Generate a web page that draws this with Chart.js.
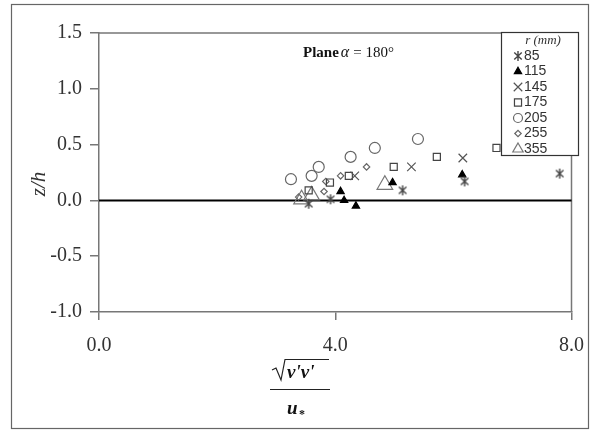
<!DOCTYPE html>
<html lang="en">
<head>
<meta charset="UTF-8">
<title>Plane α = 180°</title>
<script src="https://cdn.jsdelivr.net/npm/chart.js"></script>
<style>
  html, body { margin: 0; padding: 0; background: #fff; }
  #wrap { width: 598px; height: 434px; }
</style>
</head>
<body>
<div id="wrap"><canvas id="grafico" width="598" height="434"></canvas></div>
<script>
  // r (mm) values and the measured points for each radius
  const radii = ['85', '115', '145', '175', '205', '255', '355'];
  const x85 = [3.55, 3.92, 5.14, 6.19, 7.80];
  const y85 = [-0.03, 0.01, 0.09, 0.17, 0.24];
  const x115 = [4.09, 4.15, 4.35, 4.97, 6.15];
  const y115 = [0.08, 0.00, -0.05, 0.16, 0.23];
  const x145 = [4.33, 5.29, 6.16];
  const y145 = [0.22, 0.30, 0.38];
  const x175 = [3.55, 3.91, 4.23, 4.99, 5.72, 6.73];
  const y175 = [0.09, 0.16, 0.22, 0.30, 0.39, 0.47];
  const x205 = [3.25, 3.60, 3.72, 4.26, 4.67, 5.40];
  const y205 = [0.19, 0.22, 0.30, 0.39, 0.47, 0.55];
  const x255 = [3.38, 3.81, 3.84, 4.09, 4.53];
  const y255 = [0.03, 0.08, 0.17, 0.22, 0.30];
  const x355 = [3.43, 3.60, 4.84];
  const y355 = [0.01, 0.045, 0.14];

  const xTicks = [0, 4, 8];
  const yTicks = [-1.0, -0.5, 0.0, 0.5, 1.0, 1.5];

  const gris = '#444';
  const serif = '"Liberation Serif", "Times New Roman", serif';

  // six-armed asterisk marker
  function asterisk(size) {
    const c = document.createElement('canvas');
    c.width = size; c.height = size;
    const g = c.getContext('2d');
    const m = size / 2, r = size / 2 - 1;
    g.strokeStyle = gris;
    g.lineWidth = 1.4;
    g.beginPath();
    g.moveTo(m, m - r); g.lineTo(m, m + r);
    g.moveTo(m - r * 0.75, m - r * 0.7); g.lineTo(m + r * 0.75, m + r * 0.7);
    g.moveTo(m + r * 0.75, m - r * 0.7); g.lineTo(m - r * 0.75, m + r * 0.7);
    g.stroke();
    return c;
  }

  const estilos = {
    '85':  { pointStyle: asterisk(12), radius: 5, fill: 'rgba(0,0,0,0)', border: gris },
    '115': { pointStyle: 'triangle', radius: 4.2, fill: '#000', border: '#000' },
    '145': { pointStyle: 'crossRot', radius: 6, fill: 'rgba(0,0,0,0)', border: '#555' },
    '175': { pointStyle: 'rect', radius: 5, fill: 'rgba(0,0,0,0)', border: '#444' },
    '205': { pointStyle: 'circle', radius: 5.5, fill: 'rgba(0,0,0,0)', border: '#666' },
    '255': { pointStyle: 'rectRot', radius: 3.2, fill: 'rgba(0,0,0,0)', border: '#666' },
    '355': { pointStyle: 'triangle', radius: 9, fill: 'rgba(0,0,0,0)', border: '#777' }
  };

  const xs = { '85': x85, '115': x115, '145': x145, '175': x175, '205': x205, '255': x255, '355': x355 };
  const ys = { '85': y85, '115': y115, '145': y145, '175': y175, '205': y205, '255': y255, '355': y355 };

  const datasets = radii.map(r => ({
    label: r,
    data: xs[r].map((x, i) => ({ x: x, y: ys[r][i] })),
    pointStyle: estilos[r].pointStyle,
    pointRadius: estilos[r].radius,
    pointHoverRadius: estilos[r].radius,
    pointBackgroundColor: estilos[r].fill,
    pointBorderColor: estilos[r].border,
    pointBorderWidth: 1.2,
    showLine: false
  }));

  const decoracion = {
    id: 'decoracion',
    beforeDatasetsDraw(chart) {
      const ctx = chart.ctx;
      const a = chart.chartArea;
      const y0 = chart.scales.y.getPixelForValue(0);
      ctx.save();
      // top and right edges of the plot box
      ctx.strokeStyle = '#777';
      ctx.lineWidth = 1.5;
      ctx.beginPath();
      ctx.moveTo(a.left, a.top); ctx.lineTo(a.right, a.top); ctx.lineTo(a.right, a.bottom);
      ctx.stroke();
      // z/h = 0 reference line
      ctx.strokeStyle = '#000';
      ctx.lineWidth = 2;
      ctx.beginPath();
      ctx.moveTo(a.left, y0); ctx.lineTo(a.right, y0);
      ctx.stroke();
      ctx.restore();
    },
    afterDraw(chart) {
      const ctx = chart.ctx;
      ctx.save();
      // outer frame
      ctx.strokeStyle = '#666';
      ctx.lineWidth = 1.2;
      ctx.strokeRect(11.5, 4.5, 577, 424);

      // plane label
      ctx.fillStyle = '#111';
      ctx.textBaseline = 'alphabetic';
      ctx.textAlign = 'left';
      let px = 303;
      ctx.font = 'bold 15px ' + serif;
      ctx.fillText('Plane', px, 57);
      px += ctx.measureText('Plane').width + 2;
      ctx.font = 'italic 16px ' + serif;
      ctx.fillText('α', px, 57);
      px += ctx.measureText('α').width + 4;
      ctx.font = '15px ' + serif;
      ctx.fillText('= 180°', px, 57);

      // y axis title
      ctx.save();
      ctx.translate(39, 184);
      ctx.rotate(-Math.PI / 2);
      ctx.font = 'italic 21px ' + serif;
      ctx.fillStyle = '#333';
      ctx.textAlign = 'center';
      ctx.textBaseline = 'middle';
      ctx.fillText('z/h', 0, 0);
      ctx.restore();

      // x axis title: sqrt(v'v') / u*
      ctx.fillStyle = '#111';
      ctx.strokeStyle = '#222';
      ctx.lineWidth = 1.2;
      ctx.beginPath();
      ctx.moveTo(272, 370); ctx.lineTo(276, 368); ctx.lineTo(281, 380);
      ctx.lineTo(285, 359.5); ctx.lineTo(329, 359.5);
      ctx.stroke();
      ctx.font = 'bold italic 19px ' + serif;
      ctx.textAlign = 'left';
      ctx.fillText("v'v'", 287, 378);
      ctx.beginPath();
      ctx.moveTo(270, 389.5); ctx.lineTo(330, 389.5);
      ctx.stroke();
      ctx.fillText('u', 287, 414);
      ctx.font = 'bold 12px ' + serif;
      ctx.fillText('*', 299, 418);

      // legend
      const lx = 501.5, ly = 32.5, lw = 77, lh = 123;
      ctx.fillStyle = '#fff';
      ctx.fillRect(lx, ly, lw, lh);
      ctx.strokeStyle = '#333';
      ctx.lineWidth = 1.2;
      ctx.strokeRect(lx, ly, lw, lh);
      ctx.fillStyle = '#333';
      ctx.font = 'italic 13px ' + serif;
      ctx.textAlign = 'center';
      ctx.textBaseline = 'middle';
      ctx.fillText('r (mm)', 543, 41);
      ctx.font = '14px "Liberation Sans", Arial, sans-serif';
      ctx.textAlign = 'left';
      radii.forEach((r, i) => {
        const yy = 56 + i * 15.5;
        const e = estilos[r];
        ctx.fillStyle = e.fill;
        ctx.strokeStyle = e.border;
        ctx.lineWidth = 1.2;
        const rad = r === '355' ? 6 : (r === '205' ? 4.5 : e.radius);
        Chart.helpers.drawPoint(ctx, { pointStyle: e.pointStyle, radius: rad, borderWidth: 1.2, rotation: 0 }, 518, yy);
        ctx.fillStyle = '#333';
        ctx.fillText(r, 524, yy);
      });
      ctx.restore();
    }
  };

  const ctx = document.getElementById('grafico').getContext('2d');
  new Chart(ctx, {
    type: 'scatter',
    data: { datasets: datasets },
    options: {
      responsive: false,
      animation: false,
      events: [],
      layout: { padding: { left: 0, top: 33, right: 26, bottom: 0 } },
      plugins: {
        legend: { display: false },
        tooltip: { enabled: false }
      },
      scales: {
        x: {
          type: 'linear',
          min: 0, max: 8,
          afterFit: s => { s.height = 122; },
          afterBuildTicks: s => { s.ticks = xTicks.map(v => ({ value: v })); },
          ticks: {
            padding: 14,
            color: '#333',
            font: { family: serif, size: 20 },
            maxRotation: 0,
            callback: v => v.toFixed(1)
          },
          grid: { drawOnChartArea: false, drawTicks: true, tickLength: 8, color: '#777', lineWidth: 1.5 },
          border: { display: true, color: '#777', width: 1.5 }
        },
        y: {
          type: 'linear',
          min: -1, max: 1.5,
          afterFit: s => { s.width = 99; },
          afterBuildTicks: s => { s.ticks = yTicks.map(v => ({ value: v })); },
          ticks: {
            padding: 8,
            color: '#333',
            font: { family: serif, size: 20 },
            callback: v => v.toFixed(1)
          },
          grid: { drawOnChartArea: false, drawTicks: true, tickLength: 9, color: '#777', lineWidth: 1.5 },
          border: { display: true, color: '#777', width: 1.5 }
        }
      }
    },
    plugins: [decoracion]
  });
</script>
</body>
</html>
